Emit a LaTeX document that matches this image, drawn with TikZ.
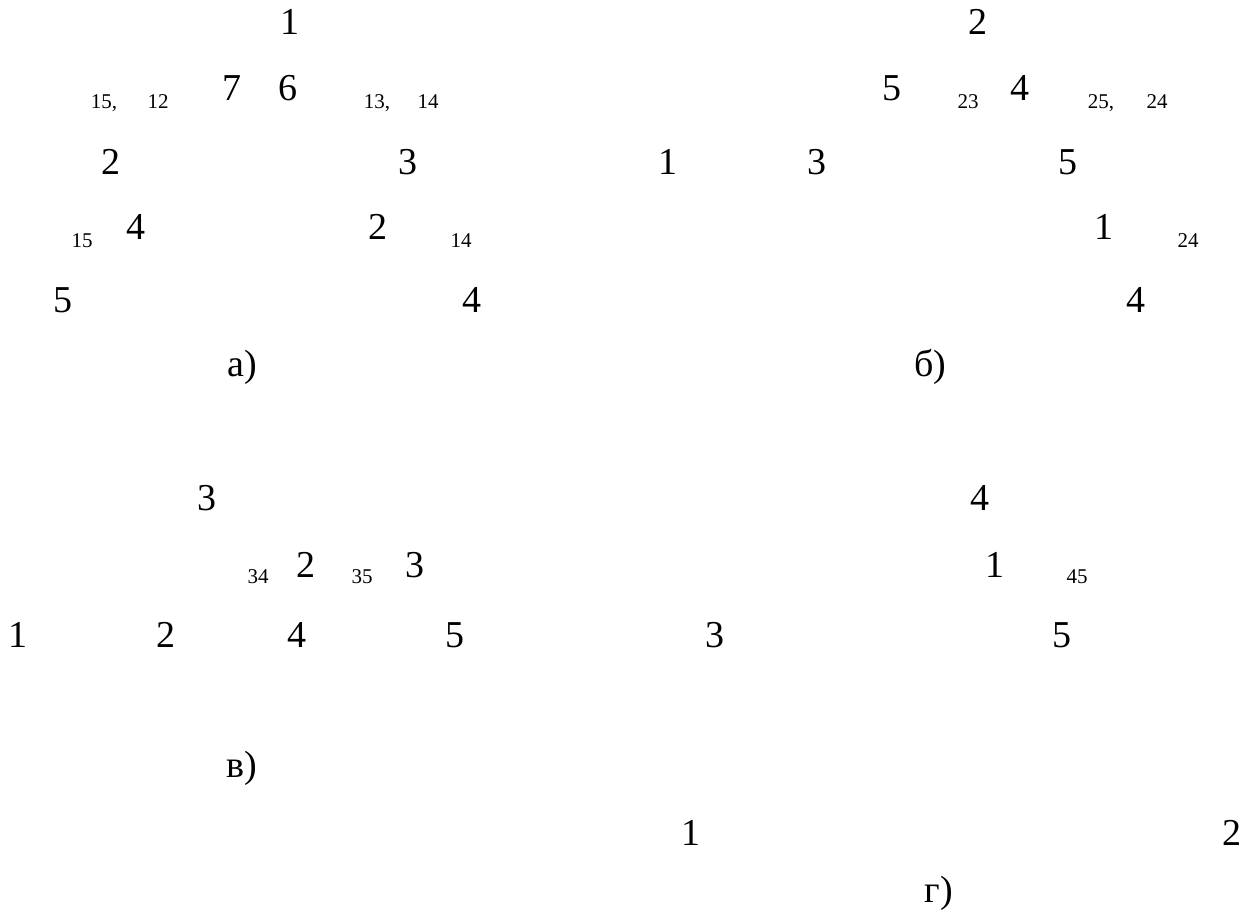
\documentclass[tikz,border=0pt]{standalone}
\usepackage{fontspec}
\setmainfont{Liberation Serif}
\newfontfamily\timesfont{Liberation Serif}

\begin{document}
\begin{tikzpicture}[
    x=1pt, y=-1pt,
    vertex/.style={inner sep=0pt, font=\timesfont\fontsize{38}{40}\selectfont},
    index/.style={inner sep=0pt, text depth=0pt, font=\timesfont\fontsize{21}{24}\selectfont},
    caption/.style={inner sep=0pt, font=\timesfont\fontsize{38}{40}\selectfont}
]
    \useasboundingbox (0,0) rectangle (1247,919);

    % a)
    \node[vertex] (a1) at (290,22) {1};
    \node[index] (a15) at (104,102) {15,};
    \node[index] (a12) at (158,102) {12};
    \node[vertex] (a7) at (232,88) {7};
    \node[vertex] (a6) at (288,88) {6};
    \node[index] (a13) at (377,102) {13,};
    \node[index] (a14) at (428,102) {14};
    \node[vertex] (a2) at (111,162) {2};
    \node[vertex] (a3) at (408,162) {3};
    \node[index] (a15b) at (82,241) {15};
    \node[vertex] (a4) at (136,227) {4};
    \node[vertex] (a2b) at (378,227) {2};
    \node[index] (a14b) at (461,241) {14};
    \node[vertex] (a5) at (63,300) {5};
    \node[vertex] (a4b) at (472,300) {4};
    \node[caption] (capa) at (242,367) {а)};

    % b)
    \node[vertex] (b2) at (978,22) {2};
    \node[vertex] (b5) at (892,88) {5};
    \node[index] (b23) at (968,102) {23};
    \node[vertex] (b4) at (1020,88) {4};
    \node[index] (b25) at (1101,102) {25,};
    \node[index] (b24) at (1157,102) {24};
    \node[vertex] (b1) at (668,162) {1};
    \node[vertex] (b3) at (817,162) {3};
    \node[vertex] (b5b) at (1068,162) {5};
    \node[vertex] (b1b) at (1104,227) {1};
    \node[index] (b24b) at (1188,241) {24};
    \node[vertex] (b4b) at (1136,300) {4};
    \node[caption] (capb) at (930,367) {б)};

    % v)
    \node[vertex] (c3) at (207,498) {3};
    \node[index] (c34) at (258,577) {34};
    \node[vertex] (c2) at (306,565) {2};
    \node[index] (c35) at (362,577) {35};
    \node[vertex] (c3b) at (415,565) {3};
    \node[vertex] (c1) at (18,635) {1};
    \node[vertex] (c2b) at (166,635) {2};
    \node[vertex] (c4) at (297,635) {4};
    \node[vertex] (c5) at (455,635) {5};
    \node[caption] (capc) at (242,768) {в)};

    % g)
    \node[vertex] (d4) at (980,498) {4};
    \node[vertex] (d1) at (995,565) {1};
    \node[index] (d45) at (1077,577) {45};
    \node[vertex] (d3) at (715,635) {3};
    \node[vertex] (d5) at (1062,635) {5};
    \node[vertex] (d1b) at (691,833) {1};
    \node[vertex] (d2) at (1232,833) {2};
    \node[caption] (capd) at (939,893) {г)};
\end{tikzpicture}
\end{document}
